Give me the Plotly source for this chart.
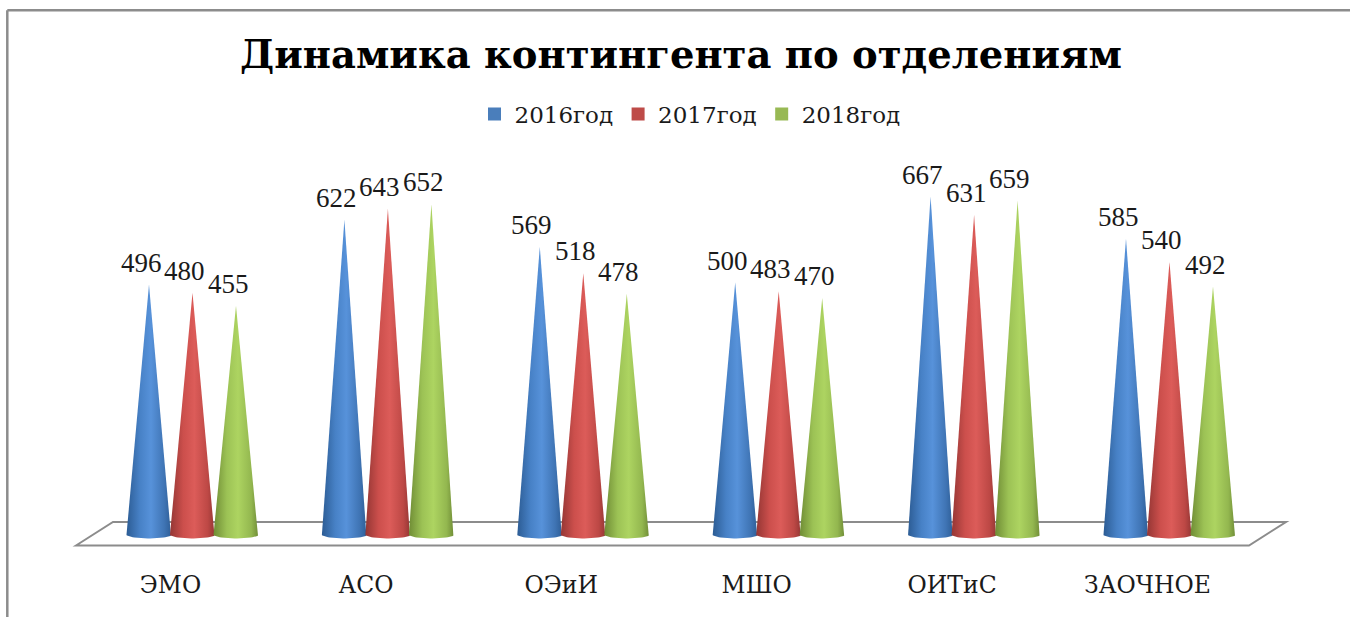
import numpy as np
import plotly.graph_objects as go

categories = ["ЭМО", "АСО", "ОЭиИ", "МШО", "ОИТиС", "ЗАОЧНОЕ"]
series_names = ["2016год", "2017год", "2018год"]
values_2016 = [496, 622, 569, 500, 667, 585]
values_2017 = [480, 643, 518, 483, 631, 540]
values_2018 = [455, 652, 478, 470, 659, 492]
all_values = [values_2016, values_2017, values_2018]

legend_colors = ["#4a7ebb", "#be4b48", "#98b954"]
gradients = [
    [[0, "#2c5c94"], [0.3, "#4781c6"], [0.55, "#5792da"], [0.85, "#3f74b4"], [1, "#2f5f98"]],
    [[0, "#943634"], [0.3, "#cc4f4c"], [0.55, "#dc5c59"], [0.85, "#bd4845"], [1, "#963735"]],
    [[0, "#6f8c35"], [0.3, "#9cc255"], [0.55, "#add461"], [0.85, "#93b74f"], [1, "#728f38"]],
]

W, H = 1350, 617
CAT_STEP = 195.4      # px per category
PX_PER_UNIT = 0.515   # px per value unit
ZERO_PX = 540
PLOT_BOTTOM = 568
FIRST_CENTER = 192.5

x_range = [-FIRST_CENTER / CAT_STEP, (W - FIRST_CENTER) / CAT_STEP]
y_range = [-(PLOT_BOTTOM - ZERO_PX) / PX_PER_UNIT, ZERO_PX / PX_PER_UNIT]

bar_step = 43.5 / CAT_STEP
half_w = 22.5 / CAT_STEP
base_v = 10
base_ry = 7
label_shift = -22 / CAT_STEP


def py(px):
    """Page pixel row to paper coordinate (paper spans the plot area only)."""
    return (PLOT_BOTTOM - px) / PLOT_BOTTOM


fig = go.Figure()
t = np.linspace(np.pi, 2 * np.pi, 30)
annotations = []
for s, vals in enumerate(all_values):
    for i, v in enumerate(vals):
        cx = i + (s - 1) * bar_step
        xs = np.concatenate([[cx], cx + half_w * np.cos(t)[::-1], [cx]])
        ys = np.concatenate([[v], base_v + base_ry * np.sin(t)[::-1], [v]])
        fig.add_trace(go.Scatter(
            x=xs, y=ys, mode="lines", line=dict(width=0), fill="toself",
            fillgradient=dict(type="horizontal", colorscale=gradients[s]),
            showlegend=False, hoverinfo="skip",
        ))
        annotations.append(dict(
            x=cx, y=v, text=str(v), showarrow=False, xshift=-8, yshift=22,
            font=dict(family="Liberation Serif", size=27, color="#1a1a1a"),
        ))

for s, name in enumerate(series_names):
    fig.add_trace(go.Scatter(
        x=[None], y=[None], mode="markers", name=name,
        marker=dict(symbol="square", size=13, color=legend_colors[s]),
    ))

shapes = [
    dict(type="path", xref="paper", yref="paper",
         path=f"M {76/W} {py(545.5)} L {113/W} {py(522)} L {1286/W} {py(522)} L {1249/W} {py(545.5)} Z",
         line=dict(color="#8c8c8c", width=2), layer="below"),
    dict(type="line", xref="paper", yref="paper", x0=7.3/W, x1=1, y0=py(10.3), y1=py(10.3),
         line=dict(color="#8c8c8c", width=2.5)),
    dict(type="line", xref="paper", yref="paper", x0=7.3/W, x1=7.3/W, y0=py(10.3), y1=py(617),
         line=dict(color="#8c8c8c", width=2.5)),
]

fig.update_layout(
    width=W, height=H,
    margin=dict(l=0, r=0, t=0, b=H - PLOT_BOTTOM),
    paper_bgcolor="white", plot_bgcolor="white",
    title=dict(text="<b>Динамика контингента по отделениям</b>", x=681 / W, xanchor="center",
               y=1 - 55 / H, yanchor="middle",
               font=dict(family="DejaVu Serif", size=38.5, color="#000000")),
    legend=dict(orientation="h", x=690 / W, xanchor="center", y=py(114), yanchor="middle",
                font=dict(family="DejaVu Serif", size=23, color="#1a1a1a"),
                itemwidth=30, bgcolor="rgba(0,0,0,0)"),
    xaxis=dict(range=x_range, tickmode="array",
               tickvals=[i + label_shift for i in range(len(categories))],
               ticktext=categories, showgrid=False, zeroline=False, showline=False, ticks="",
               tickfont=dict(family="DejaVu Serif", size=23.5, color="#1a1a1a")),
    yaxis=dict(range=y_range, visible=False, showgrid=False, zeroline=False),
    shapes=shapes, annotations=annotations,
)
fig.write_html("out.html", config={"displayModeBar": False},
               post_script="document.body.style.margin='0';")
